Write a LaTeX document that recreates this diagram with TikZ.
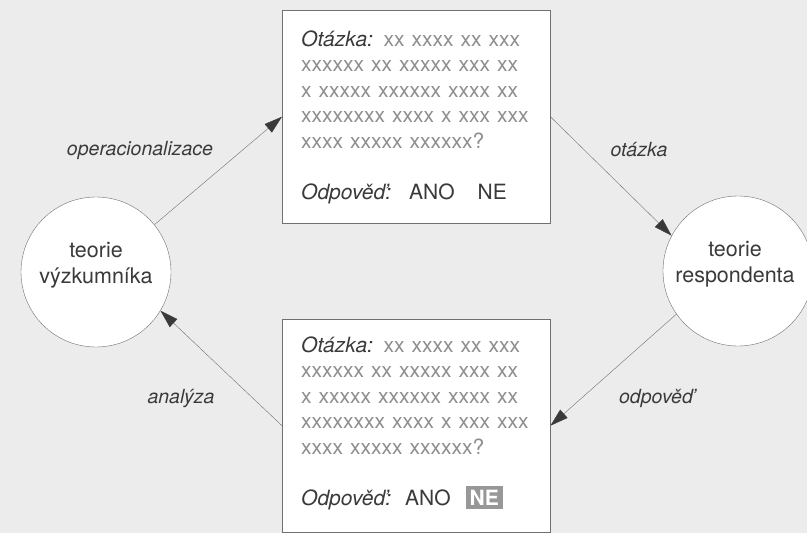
\documentclass[tikz,border=0pt]{standalone}
\usepackage{fontspec}
\setmainfont{TeX Gyre Heros}
\usetikzlibrary{arrows.meta}

\definecolor{paper}{HTML}{ECECEC}
\definecolor{ink}{HTML}{3A3A3A}
\definecolor{dummy}{HTML}{8E8E8E}
\definecolor{rule}{HTML}{707070}
\definecolor{mark}{HTML}{979797}

\newcommand{\xx}[1]{\textcolor{dummy}{#1}}
\newcommand{\picked}[1]{{\setlength{\fboxsep}{4pt}\colorbox{mark}{\textcolor{white}{\bfseries #1}}}}

\begin{document}
\begin{tikzpicture}[x=1pt,y=-1pt,font=\fontsize{21}{25.5}\selectfont,text=ink,
    % styles
    party/.style={circle,draw=rule,fill=white,minimum size=150pt,inner sep=0pt},
    party text/.style={align=center,inner sep=0pt,font=\fontsize{21.5}{25.5}\selectfont},
    sheet/.style={draw=rule,fill=white,minimum width=268pt,minimum height=213pt,
      inner sep=0pt,anchor=north west},
    sheet text/.style={text width=250pt,align=left,anchor=base west,inner sep=0pt},
    flow/.style={draw=rule,-{Triangle[length=18pt,width=11pt,color=ink]}},
    flow label/.style={font=\fontsize{19.5}{25.5}\selectfont\itshape}]

  % paper
  \useasboundingbox (0,0) rectangle (807,533);
  \clip (0,0) rectangle (807,533);
  \fill[paper] (0,0) rectangle (807,533);

  % theories
  \node[party] (researcher) at (96,272) {};
  \node[party text] (researcher text) at ([yshift=7pt]researcher.center)
    {teorie\\výzkumníka};
  \node[party] (respondent) at (738,271) {};
  \node[party text] (respondent text) at ([yshift=7pt,xshift=-3pt]respondent.center)
    {teorie\\respondenta};

  % question sheets
  \node[sheet] (question) at (282,10) {};
  \node[sheet] (answer) at (282,319) {};

  % text of sheets
  \node[sheet text] (question text) at ([xshift=19pt,yshift=-36pt]question.north west)
    {\textit{Otázka:} \xx{xx xxxx xx xxx}\\
     \xx{xxxxxx xx xxxxx xxx xx}\\
     \xx{x xxxxx xxxxxx xxxx xx}\\
     \xx{xxxxxxxx xxxx x xxx xxx}\\
     \xx{xxxx xxxxx xxxxxx?}\\[25.5pt]
     \textit{Odpověď:}\hspace{18pt}ANO\hspace{23pt}NE};
  \node[sheet text] (answer text) at ([xshift=19pt,yshift=-33pt]answer.north west)
    {\textit{Otázka:} \xx{xx xxxx xx xxx}\\
     \xx{xxxxxx xx xxxxx xxx xx}\\
     \xx{x xxxxx xxxxxx xxxx xx}\\
     \xx{xxxxxxxx xxxx x xxx xxx}\\
     \xx{xxxx xxxxx xxxxxx?}\\[25.5pt]
     \textit{Odpověď:}\hspace{14pt}ANO\hspace{15pt}\picked{NE}};

  % connectors
  \draw[flow] (researcher.39) -- (question.west);
  \draw[flow] (question.east) -- (respondent.152);
  \draw[flow] (respondent.215) -- (answer.east);
  \draw[flow] (answer.west) -- (researcher.329);

  % labels of connectors
  \node[flow label] (operationalisation) at (140,150) {operacionalizace};
  \node[flow label] (asking) at (639,150) {otázka};
  \node[flow label] (replying) at (656,398) {odpověď};
  \node[flow label] (analysis) at (181,399) {analýza};
\end{tikzpicture}
\end{document}
